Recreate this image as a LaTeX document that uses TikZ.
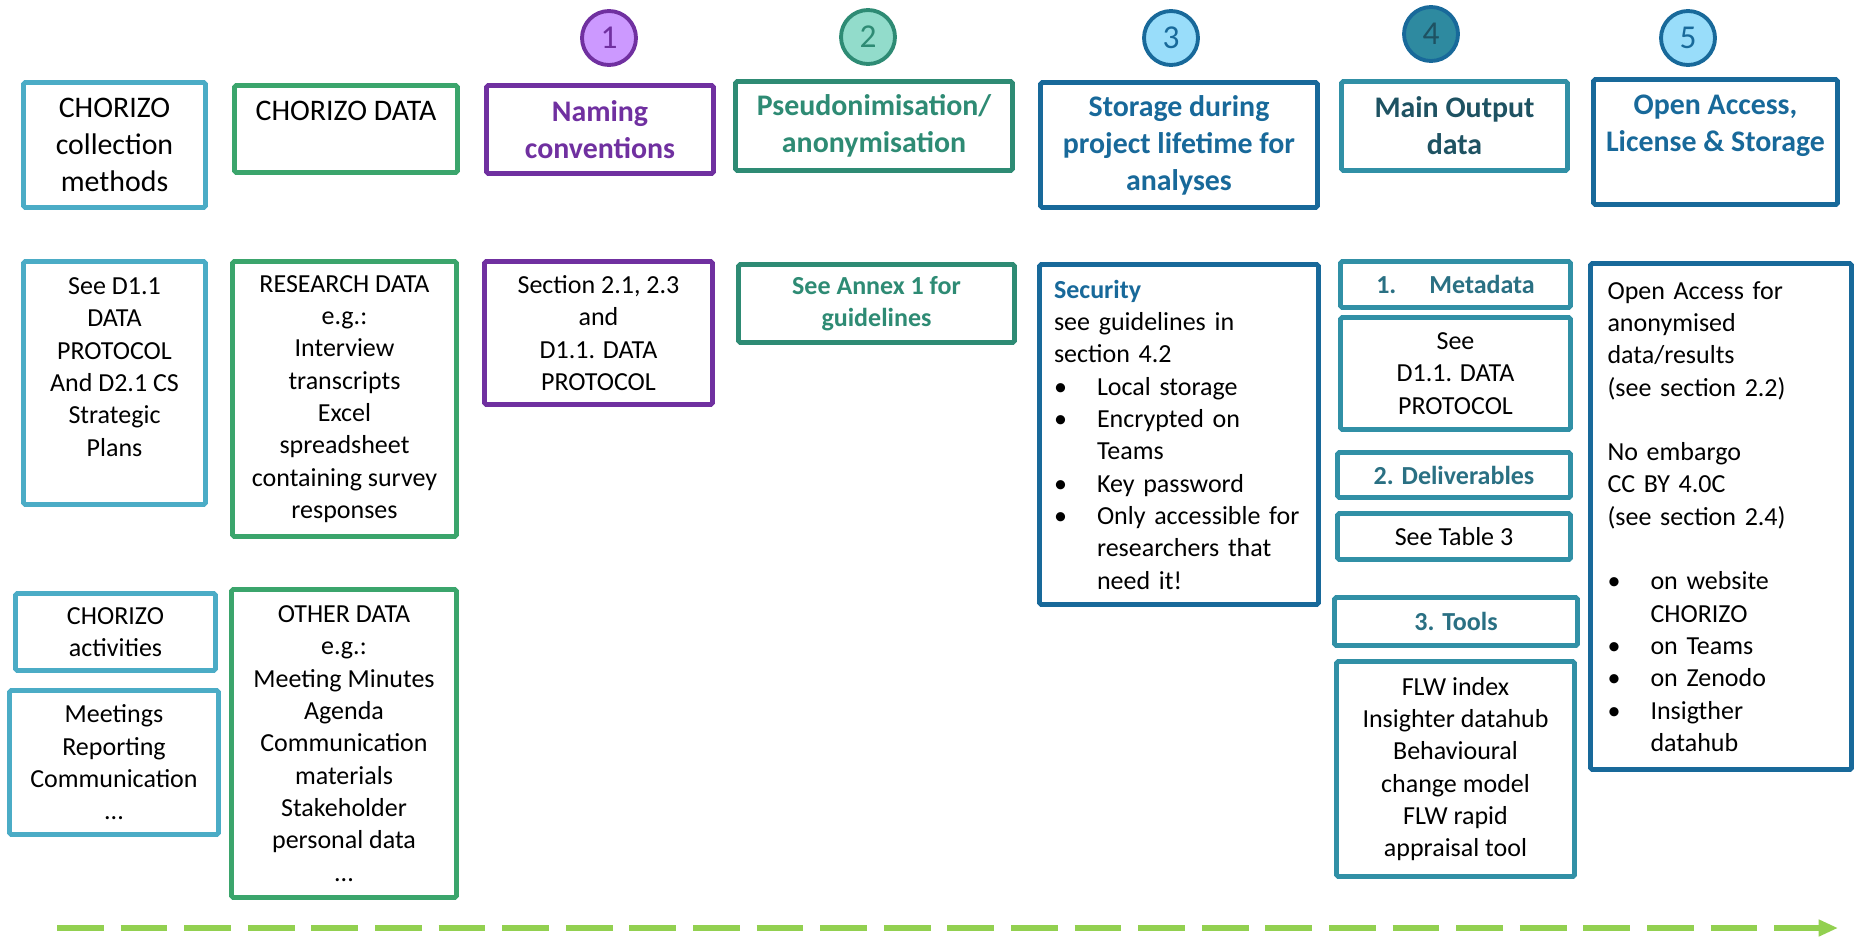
\documentclass[tikz,border=0pt]{standalone}
\usepackage{fontspec}
\setmainfont{Carlito}
\usetikzlibrary{arrows.meta}

\definecolor{methodblue}{HTML}{4BACC6}
\definecolor{datagreen}{HTML}{3BA56C}
\definecolor{namepurple}{HTML}{7030A0}
\definecolor{namelilac}{HTML}{CC99FF}
\definecolor{pseudoteal}{HTML}{2E8B74}
\definecolor{pseudomint}{HTML}{92DCCB}
\definecolor{storeblue}{HTML}{18699A}
\definecolor{storesky}{HTML}{99DDFA}
\definecolor{outteal}{HTML}{3190A6}
\definecolor{outdark}{HTML}{1E5262}
\definecolor{outtext}{HTML}{2A7083}
\definecolor{outfill}{HTML}{2E8AA0}
\definecolor{arrowgreen}{HTML}{92D050}

\newcommand{\bodyfont}{\fontsize{14.8}{18.4}\selectfont}
\newcommand{\headfont}{\fontsize{17}{21}\selectfont}
\newcommand{\bul}{\makebox[0.86cm][l]{\textbullet}}
\newcommand{\cont}{\hspace*{0.86cm}}

\begin{document}
\begin{tikzpicture}[x=0.02cm, y=-0.02cm,
    panel/.style={draw=#1, line width=2.8pt, fill=white, inner sep=0pt,
      align=center, rounded corners=1pt},
    headbox/.style={panel=#1, font=\headfont},
    bodybox/.style={panel=#1, font=\bodyfont},
    headbold/.style={font=\headfont\bfseries},
    bodybold/.style={font=\bodyfont\bfseries},
    boxsize/.style 2 args={minimum width=#1*0.02cm, minimum height=#2*0.02cm},
    stepmark/.style n args={3}{circle, draw=#1, fill=#2, text=#3, line width=2.2pt,
      minimum size=1.08cm, inner sep=0pt, font=\fontsize{19}{19}\selectfont},
    timeline/.style={draw=arrowgreen, line width=3.4pt,
      dash pattern=on 26.6pt off 9.6pt, -{Triangle[length=11pt,width=9pt]}}]
  \useasboundingbox (0,0) rectangle (1856,937);

  % Step numbers
  \node[stepmark={namepurple}{namelilac}{namepurple}] (one) at (609,38) {1};
  \node[stepmark={pseudoteal}{pseudomint}{pseudoteal}] (two) at (868,37) {2};
  \node[stepmark={storeblue}{storesky}{storeblue}] (three) at (1171,38) {3};
  \node[stepmark={storeblue}{outfill}{outdark}] (four) at (1431,34) {4};
  \node[stepmark={storeblue}{storesky}{storeblue}] (five) at (1688,38) {5};

  % Column headers
  \node[headbox=methodblue, boxsize={182}{125}] (methods) at (114.5,145)
    {CHORIZO\\collection\\methods};
  \node[headbox=datagreen, boxsize={223}{87}] (data) at (346,129)
    {CHORIZO DATA\\\mbox{}};
  \node[headbox=namepurple, boxsize={227}{88}, headbold, text=namepurple] (naming) at (600,129.5)
    {Naming\\conventions};
  \node[headbox=pseudoteal, boxsize={277}{89}, headbold, text=pseudoteal] (pseudo) at (874,126)
    {Pseudonimisation/\\anonymisation};
  \node[headbox=storeblue, boxsize={277}{125}, headbold, text=storeblue] (storage) at (1179,145)
    {Storage during\\project lifetime for\\analyses};
  \node[headbox=outteal, boxsize={226}{89}, headbold, text=outdark] (output) at (1454.5,126)
    {Main Output\\data};
  \node[headbox=storeblue, boxsize={244}{125}, headbold, text=storeblue] (access) at (1715.5,142)
    {Open Access,\\License \& Storage\\\mbox{}};

  % Details per column
  \node[bodybox=methodblue, boxsize={182}{243}] (methodsInfo) at (114.5,383)
    {See D1.1\\DATA\\PROTOCOL\\And D2.1 CS\\Strategic\\Plans\\\mbox{}};
  \node[bodybox=datagreen, boxsize={224}{275}] (research) at (344.5,399)
    {RESEARCH DATA\\e.g.:\\Interview\\transcripts\\Excel\\spreadsheet\\containing survey\\responses};
  \node[bodybox=namepurple, boxsize={228}{143}] (namingInfo) at (598.5,333)
    {Section 2.1, 2.3\\and\\D1.1. DATA\\PROTOCOL};
  \node[bodybox=pseudoteal, boxsize={276}{78}, bodybold, text=pseudoteal] (annex) at (876.5,303.5)
    {See Annex 1 for\\guidelines};
  \node[bodybox=storeblue, boxsize={279}{340}, align=left, text width=5cm] (security) at (1179,434.5)
    {\textcolor{storeblue}{\bfseries Security}\\see guidelines in\\section 4.2\\\bul Local storage\\
     \bul Encrypted on\\\cont Teams\\\bul Key password\\\bul Only~accessible~for\\
     \cont researchers~that\\\cont need it!};

  % Main output column
  \node[bodybox=outteal, boxsize={230}{46}, bodybold, text=outtext] (meta) at (1455.5,284.5)
    {1.\hspace{0.66cm}Metadata};
  \node[bodybox=outteal, boxsize={230}{112}] (metaInfo) at (1455.5,373.5)
    {See\\D1.1. DATA\\PROTOCOL};
  \node[bodybox=outteal, boxsize={233}{45}, bodybold, text=outtext] (deliv) at (1454,475)
    {2. Deliverables};
  \node[bodybox=outteal, boxsize={233}{46}] (delivInfo) at (1454,536.5)
    {See Table 3};
  \node[bodybox=outteal, boxsize={243}{48}, bodybold, text=outtext] (tools) at (1456,621.5)
    {3. Tools};
  \node[bodybox=outteal, boxsize={238}{215}] (toolsInfo) at (1455.5,769)
    {FLW index\\Insighter datahub\\Behavioural\\change model\\FLW rapid\\appraisal tool};

  \node[bodybox=storeblue, boxsize={261}{506}, align=left, text width=4.54cm] (accessInfo) at (1721,516.5)
    {Open Access for\\anonymised\\data/results\\(see section 2.2)\\\mbox{}\\No embargo\\CC BY 4.0C\\
     (see section 2.4)\\\mbox{}\\\bul on website\\\cont CHORIZO\\\bul on Teams\\\bul on Zenodo\\
     \bul Insigther\\\cont datahub};

  % Activities and other data
  \node[bodybox=methodblue, boxsize={200}{77}] (activities) at (115.5,632)
    {CHORIZO\\activities};
  \node[bodybox=methodblue, boxsize={209}{144}] (meetings) at (114,762.5)
    {Meetings\\Reporting\\Communication\\...};
  \node[bodybox=datagreen, boxsize={225}{308}] (other) at (344,743.5)
    {OTHER DATA\\e.g.:\\Meeting Minutes\\Agenda\\Communication\\materials\\Stakeholder\\personal data\\...};

  % Timeline
  \coordinate (tStart) at (57,928);
  \coordinate (tEnd) at (1838,928);
  \draw[timeline] (tStart) -- (tEnd);
\end{tikzpicture}
\end{document}
